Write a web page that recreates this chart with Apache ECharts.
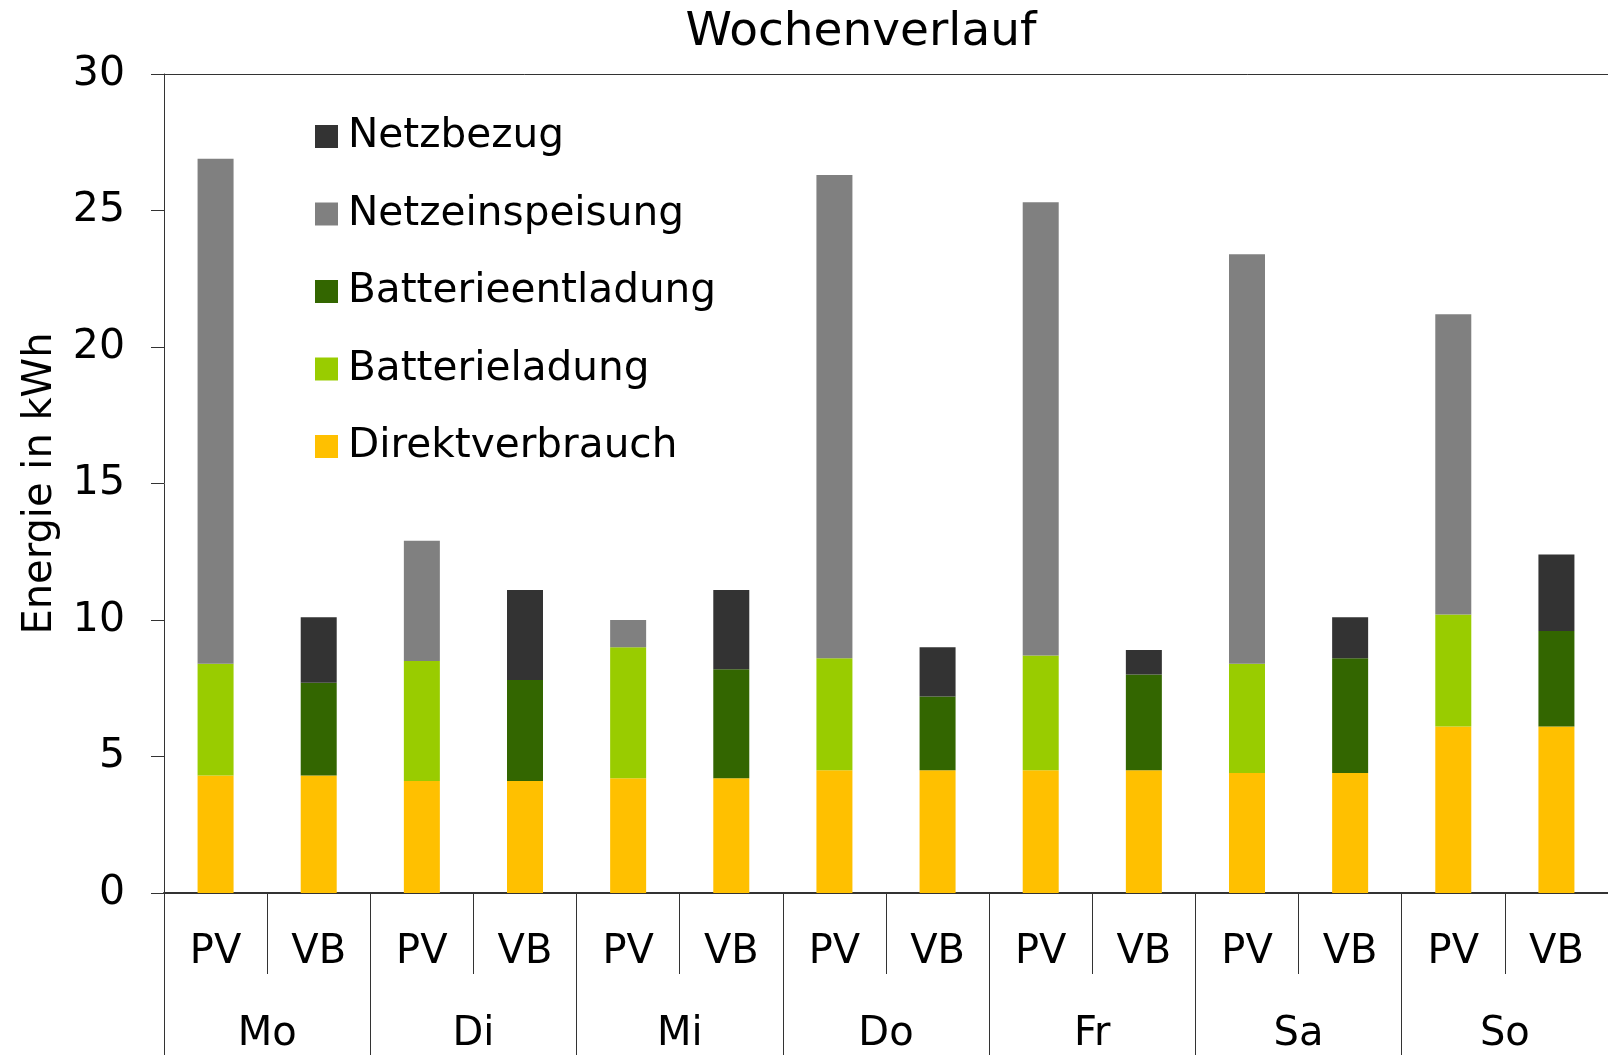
<!DOCTYPE html>
<html>
<head>
<meta charset="utf-8">
<script src="https://cdn.jsdelivr.net/npm/echarts@6/dist/echarts.min.js"></script>
<style>
  html, body { margin: 0; padding: 0; background: #fff; }
  #main { width: 1608px; height: 1055px; }
</style>
</head>
<body>
<div id="main"></div>
<script>
// Tage und Balkenarten
const days = ['Mo', 'Di', 'Mi', 'Do', 'Fr', 'Sa', 'So'];
const kinds = ['PV', 'VB'];

// PV-Balken (kWh)
const direktPV = [4.3, 4.1, 4.2, 4.5, 4.5, 4.4, 6.1];
const batterieladung = [4.1, 4.4, 4.8, 4.1, 4.2, 4.0, 4.1];
const netzeinspeisung = [18.5, 4.4, 1.0, 17.7, 16.6, 15.0, 11.0];

// VB-Balken (kWh)
const direktVB = [4.3, 4.1, 4.2, 4.5, 4.5, 4.4, 6.1];
const batterieentladung = [3.4, 3.7, 4.0, 2.7, 3.5, 4.2, 3.5];
const netzbezug = [2.4, 3.3, 2.9, 1.8, 0.9, 1.5, 2.8];

const yTicks = [0, 5, 10, 15, 20, 25, 30];

let myChart = echarts.init(document.getElementById('main'));

// 14 Kategorien: PV, VB pro Tag
const subCats = days.flatMap(() => kinds);
const pvOnly = arr => days.flatMap((d, i) => [arr[i], '-']);
const vbOnly = arr => days.flatMap((d, i) => ['-', arr[i]]);
const both = (a, b) => days.flatMap((d, i) => [a[i], b[i]]);

const font = 'DejaVu Sans';
const lineColor = '#333333';

function bar(name, data, color) {
    return {
        name: name,
        type: 'bar',
        stack: 'total',
        barWidth: 36,
        data: data,
        itemStyle: { color: color },
        emphasis: { disabled: true }
    };
}

let option = {
    animation: false,
    textStyle: { fontFamily: font, color: '#000' },
    title: {
        text: 'Wochenverlauf',
        left: 856,
        top: 4,
        textAlign: 'center',
        textStyle: { fontFamily: font, fontSize: 47, fontWeight: 'normal', color: '#000' }
    },
    legend: {
        orient: 'vertical',
        left: 315,
        top: 116,
        padding: 0,
        itemWidth: 23,
        itemHeight: 23,
        itemGap: 36.5,
        icon: 'rect',
        selectedMode: false,
        data: ['Netzbezug', 'Netzeinspeisung', 'Batterieentladung', 'Batterieladung', 'Direktverbrauch'],
        textStyle: { fontFamily: font, fontSize: 40.6, color: '#000', padding: [0, 0, 0, 5] }
    },
    grid: {
        left: 164,
        top: 74,
        width: 1446,
        bottom: 162
    },
    xAxis: [
        {
            type: 'category',
            data: subCats,
            position: 'bottom',
            axisLine: { show: true, lineStyle: { color: lineColor, width: 2 } },
            axisTick: { show: true, interval: 0, length: 81, lineStyle: { color: lineColor, width: 1 } },
            axisLabel: { interval: 0, margin: 40, fontSize: 40, color: '#000', fontFamily: font }
        },
        {
            type: 'category',
            data: days,
            position: 'bottom',
            offset: 0,
            axisLine: { show: false },
            axisTick: { show: true, interval: 0, length: 165, lineStyle: { color: lineColor, width: 1 } },
            axisLabel: { interval: 0, margin: 122, fontSize: 40, color: '#000', fontFamily: font }
        },
        {
            type: 'category',
            data: days,
            position: 'top',
            axisLine: { show: true, lineStyle: { color: lineColor, width: 1 } },
            axisTick: { show: false },
            axisLabel: { show: false }
        }
    ],
    yAxis: {
        type: 'value',
        min: yTicks[0],
        max: yTicks[yTicks.length - 1],
        interval: 5,
        name: 'Energie in kWh',
        nameLocation: 'middle',
        nameGap: 103,
        nameTextStyle: { fontFamily: font, fontSize: 40, color: '#000' },
        axisLine: { show: true, lineStyle: { color: lineColor, width: 1 } },
        axisTick: { show: true, length: 13, lineStyle: { color: lineColor, width: 1 } },
        axisLabel: { margin: 39, fontSize: 41, color: '#000', fontFamily: font, padding: [4, 0, 0, 0] },
        splitLine: { show: false }
    },
    series: [
        bar('Direktverbrauch', both(direktPV, direktVB), '#FFC000'),
        bar('Batterieladung', pvOnly(batterieladung), '#99CC00'),
        bar('Batterieentladung', vbOnly(batterieentladung), '#336600'),
        bar('Netzeinspeisung', pvOnly(netzeinspeisung), '#808080'),
        bar('Netzbezug', vbOnly(netzbezug), '#333333')
    ]
};

myChart.setOption(option);
</script>
</body>
</html>
